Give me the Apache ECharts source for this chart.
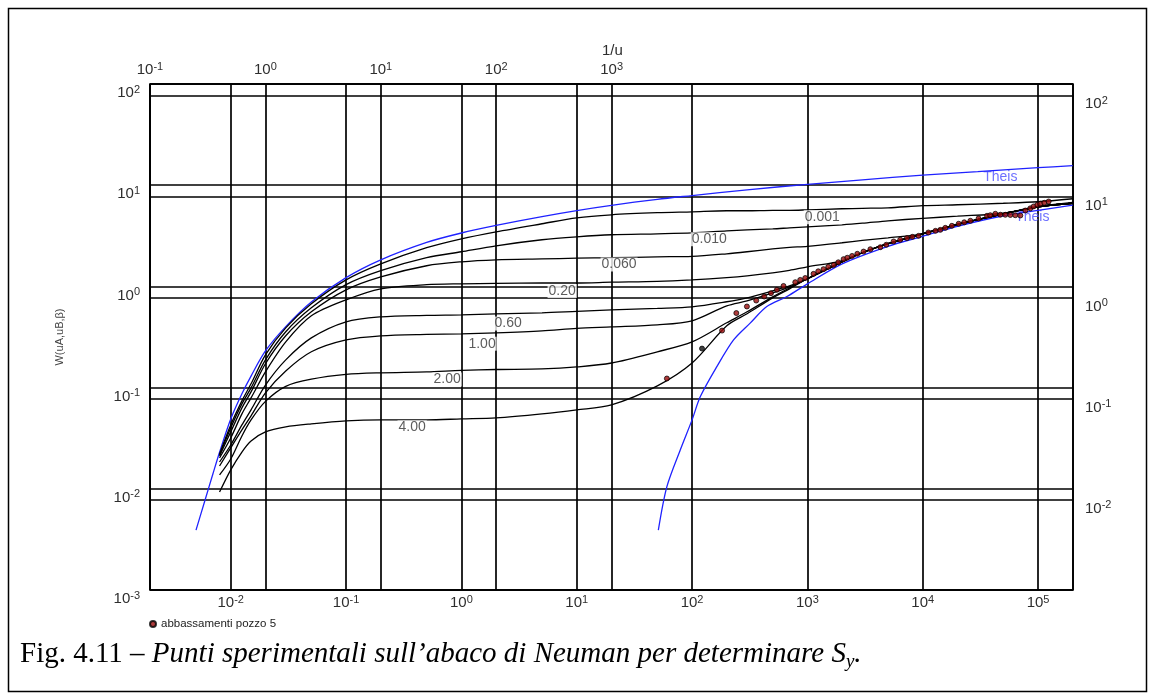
<!DOCTYPE html>
<html>
<head>
<meta charset="utf-8">
<title>Abaco di Neuman – abbassamenti pozzo 5</title>
<script src="https://cdn.jsdelivr.net/npm/echarts@6/dist/echarts.min.js"></script>
<style>
  html, body { margin: 0; padding: 0; background: #fff; }
  #chart { width: 1155px; height: 700px; }
</style>
</head>
<body>
<div id="chart"></div>
<script>
// ---------------------------------------------------------------------------
// Data (abscissa on the lower time axis, ordinate W(uA,uB,beta))
// ---------------------------------------------------------------------------

// Theis curve, early-time branch (type A)
const theisA_x = [0.005, 0.006, 0.007, 0.008, 0.01, 0.0125, 0.015, 0.02, 0.03, 0.05, 0.1, 0.2, 0.5, 1, 2, 5, 10, 20, 50, 100, 300, 1000, 3000, 1e4, 3e4, 1e5, 2e5];
const theisA_W = [0.0039, 0.0078, 0.014, 0.023, 0.049, 0.087, 0.13, 0.23, 0.40, 0.70, 1.22, 1.83, 2.72, 3.37, 4.0, 4.9, 5.62, 6.33, 7.26, 7.9, 9.0, 10.2, 11.3, 12.6, 13.6, 14.9, 15.6];

// Theis curve, late-time branch (type B)
const theisB_x = [51, 60.5, 79, 100, 118, 164, 229, 319, 445, 665, 1000, 2000, 5000, 1e4, 2e4, 5e4, 1e5, 2e5];
const theisB_W = [0.0039, 0.0105, 0.0242, 0.048, 0.0815, 0.161, 0.296, 0.434, 0.632, 0.794, 1.06, 1.67, 2.49, 3.13, 3.93, 4.99, 5.65, 6.34];

// Neuman type curves, all sampled on the same abscissae
const tauGrid = [0.008, 0.01, 0.0125, 0.015, 0.02, 0.03, 0.05, 0.1, 0.2, 0.5, 1, 2, 5, 10, 20, 50, 100, 200, 300, 500, 700, 1000, 2000, 3000, 5000, 1e4, 2e4, 5e4, 1e5, 2e5];
const betaLabels = ['0.001', '0.010', '0.060', '0.20', '0.60', '1.00', '2.00', '4.00'];
const W_b0001 = [0.0221, 0.0428, 0.0739, 0.109, 0.211, 0.389, 0.673, 1.16, 1.67, 2.41, 2.95, 3.46, 4.16, 4.76, 5.10, 5.35, 5.46, 5.59, 5.59, 5.65, 5.65, 5.71, 5.85, 5.91, 5.98, 6.27, 6.41, 6.63, 6.86, 7.35];
const W_b001  = [0.0216, 0.0400, 0.0690, 0.0993, 0.188, 0.356, 0.614, 1.04, 1.43, 1.92, 2.20, 2.52, 2.89, 3.09, 3.24, 3.31, 3.38, 3.54, 3.62, 3.70, 3.79, 3.88, 4.06, 4.21, 4.45, 4.71, 4.94, 5.28, 6.19, 6.78];
const W_b006  = [0.0211, 0.0365, 0.0631, 0.0907, 0.172, 0.325, 0.561, 0.925, 1.24, 1.60, 1.75, 1.83, 1.87, 1.90, 1.92, 1.96, 1.98, 2.10, 2.20, 2.35, 2.43, 2.49, 2.70, 2.85, 3.02, 3.31, 4.11, 5.22, 6.12, 6.63];
const W_b02   = [0.0202, 0.0318, 0.0550, 0.0791, 0.143, 0.283, 0.512, 0.736, 0.946, 1.04, 1.06, 1.07, 1.08, 1.08, 1.10, 1.12, 1.16, 1.22, 1.27, 1.36, 1.44, 1.56, 1.79, 2.15, 2.64, 3.31, 4.11, 5.22, 6.12, 6.63];
const W_b06   = [0.0184, 0.0271, 0.0428, 0.0603, 0.106, 0.188, 0.310, 0.447, 0.500, 0.518, 0.524, 0.536, 0.548, 0.567, 0.586, 0.607, 0.628, 0.705, 0.771, 0.904, 1.01, 1.19, 1.75, 2.15, 2.64, 3.31, 4.11, 5.22, 6.12, 6.63];
const W_b1    = [0.0168, 0.0254, 0.0382, 0.0525, 0.0887, 0.146, 0.226, 0.296, 0.325, 0.336, 0.340, 0.348, 0.364, 0.385, 0.398, 0.417, 0.457, 0.643, 0.720, 0.864, 0.990, 1.19, 1.75, 2.15, 2.64, 3.31, 4.11, 5.22, 6.12, 6.63];
const W_b2    = [0.0137, 0.0197, 0.0333, 0.0480, 0.0731, 0.103, 0.121, 0.135, 0.140, 0.143, 0.148, 0.151, 0.153, 0.160, 0.175, 0.226, 0.283, 0.437, 0.561, 0.789, 0.968, 1.19, 1.75, 2.15, 2.64, 3.31, 4.11, 5.22, 6.12, 6.63];
const W_b4    = [0.0093, 0.0154, 0.0231, 0.0297, 0.0365, 0.0409, 0.0438, 0.0469, 0.0480, 0.0480, 0.0491, 0.0502, 0.0550, 0.0603, 0.0675, 0.104, 0.175, 0.408, 0.536, 0.771, 0.946, 1.19, 1.75, 2.15, 2.64, 3.31, 4.11, 5.22, 6.12, 6.63];

// Measured drawdowns, well 5
const obsT = [60.5, 122, 182, 242, 299, 360, 422, 483, 544, 621, 785, 867, 958, 1130, 1242, 1380, 1518, 1690, 1854, 2060, 2218, 2440, 2710, 3070, 3516, 4290, 4831, 5590, 6380, 7310, 8128, 9210, 11200, 12900, 14200, 15700, 17900, 20500, 22900, 25900, 30500, 36100, 38500, 42600, 47100, 52000, 57500, 63500, 70200, 77600, 85700, 91600, 98600, 104700, 113300, 123500];
const obsS = [0.123, 0.243, 0.366, 0.545, 0.633, 0.725, 0.794, 0.858, 0.925, 1.01, 1.10, 1.16, 1.21, 1.33, 1.41, 1.48, 1.56, 1.63, 1.73, 1.86, 1.92, 2.00, 2.10, 2.21, 2.33, 2.44, 2.58, 2.78, 2.89, 3.00, 3.09, 3.16, 3.41, 3.54, 3.62, 3.79, 3.97, 4.16, 4.30, 4.45, 4.69, 4.99, 5.05, 5.22, 5.11, 5.10, 5.08, 5.05, 5.02, 5.62, 5.91, 6.17, 6.41, 6.55, 6.70, 6.90];

// Decade exponents printed on each axis
const bottomDecades = [-2, -1, 0, 1, 2, 3, 4, 5];
const topDecades = [-1, 0, 1, 2, 3];
const leftDecades = [-3, -2, -1, 0, 1, 2];
const rightDecades = [-2, -1, 0, 1, 2];

// ---------------------------------------------------------------------------
// Chart
// ---------------------------------------------------------------------------
const neumanW = [W_b0001, W_b001, W_b006, W_b02, W_b06, W_b1, W_b2, W_b4];

const SANS = '"Liberation Sans", Arial, Helvetica, sans-serif';
const SERIF = '"Liberation Serif", "Times New Roman", serif';
const BLUE = '#1f22ff';

function zip(xs, ys) { return xs.map((x, i) => [x, ys[i]]); }

// value of a sampled curve at x, interpolated in log-log space (used to anchor labels)
function logInterp(xs, ys, x) {
  const lx = Math.log10(x);
  for (let i = 0; i < xs.length - 1; i++) {
    const a = Math.log10(xs[i]), b = Math.log10(xs[i + 1]);
    if (lx >= a && lx <= b) {
      const t = (lx - a) / (b - a);
      const la = Math.log10(ys[i]), lb = Math.log10(ys[i + 1]);
      return Math.pow(10, la + t * (lb - la));
    }
  }
  return ys[ys.length - 1];
}

function decadeFormatter(list) {
  return function (v) {
    const e = Math.log10(v);
    const r = Math.round(e);
    if (Math.abs(e - r) > 1e-6 || list.indexOf(r) < 0) return '';
    return '{b|10}{s|' + r + '}';
  };
}
const tickRich = {
  b: { fontFamily: SANS, fontSize: 15, lineHeight: 18, color: '#2e2e2e' },
  s: { fontFamily: SANS, fontSize: 11, lineHeight: 10, verticalAlign: 'top', color: '#2e2e2e' }
};
const gridLine = { show: true, lineStyle: { color: '#000', width: 1.7 } };

const xLo = Math.pow(10, -2.7), xHi = Math.pow(10, 5.303);
const yRightLo = Math.pow(10, -2.89), yRightHi = Math.pow(10, 2.112);

// label anchors along the curves (abscissa, downward shift in px)
const betaLabelX = [1345, 141, 23.3, 7.48, 2.54, 1.51, 0.752, 0.374];
const betaLabelDy = [8, 7.5, 7, 8, 10, 10.5, 8.5, 7.5];

const series = [];

series.push({
  name: 'Theis A', type: 'line', data: zip(theisA_x, theisA_W),
  xAxisIndex: 0, yAxisIndex: 0, symbol: 'none', smooth: 0.3, silent: true, z: 3,
  lineStyle: { color: BLUE, width: 1.3 }
});
series.push({
  name: 'Theis B', type: 'line', data: zip(theisB_x, theisB_W),
  xAxisIndex: 0, yAxisIndex: 0, symbol: 'none', smooth: 0.3, silent: true, z: 3,
  lineStyle: { color: BLUE, width: 1.3 }
});

neumanW.forEach((w, i) => {
  series.push({
    name: 'beta ' + betaLabels[i], type: 'line', data: zip(tauGrid, w),
    xAxisIndex: 0, yAxisIndex: 0, symbol: 'none', smooth: 0.3, silent: true, z: 4,
    lineStyle: { color: '#000', width: 1.3 }
  });
});

// beta values written along the curves
series.push({
  name: 'beta labels', type: 'scatter', xAxisIndex: 0, yAxisIndex: 0,
  symbolSize: 0, silent: true, z: 6,
  data: betaLabels.map((b, i) => ({
    value: [betaLabelX[i], logInterp(tauGrid, neumanW[i], betaLabelX[i])],
    label: { formatter: b, offset: [0, betaLabelDy[i]] }
  })),
  label: {
    show: true, position: 'inside', fontFamily: SANS, fontSize: 14, color: '#333',
    backgroundColor: '#fff', padding: [0, 1, 0, 1]
  }
});

// "Theis" names next to the two blue branches
series.push({
  name: 'theis labels', type: 'scatter', xAxisIndex: 0, yAxisIndex: 0,
  symbolSize: 0, silent: true, z: 2,
  data: [
    { value: [47100, logInterp(theisA_x, theisA_W, 47100)], label: { offset: [0, 7] } },
    { value: [89200, logInterp(theisB_x, theisB_W, 89200)], label: { offset: [0, 6] } }
  ],
  label: { show: true, position: 'inside', formatter: 'Theis', fontFamily: SANS, fontSize: 14, color: '#4a4cff' }
});

series.push({
  name: 'abbassamenti pozzo 5', type: 'scatter', xAxisIndex: 0, yAxisIndex: 0,
  data: zip(obsT, obsS).map((p, i) => i === 1 ? { value: p, itemStyle: { color: '#111' } } : p),
  symbol: 'circle', symbolSize: 5, z: 7,
  itemStyle: { color: '#9a0a0a', borderColor: '#000', borderWidth: 0.9 }
});

const option = {
  animation: false,
  backgroundColor: '#fff',
  textStyle: { fontFamily: SANS },
  title: [
    { text: '1/u', left: 602, top: 43, padding: 0, textStyle: { fontFamily: SANS, fontSize: 15, fontWeight: 'normal', color: '#2e2e2e' } },
    {
      text: '{r|Fig. 4.11 – }{i|Punti sperimentali sull’abaco di Neuman per determinare S}{sub|y}{i|.}',
      left: 20, top: 637, padding: 0,
      textStyle: {
        rich: {
          r: { fontFamily: SERIF, fontSize: 29, fontWeight: 'normal', color: '#000', lineHeight: 34 },
          i: { fontFamily: SERIF, fontSize: 29, fontWeight: 'normal', fontStyle: 'italic', color: '#000', lineHeight: 34 },
          sub: { fontFamily: SERIF, fontSize: 19, fontWeight: 'normal', fontStyle: 'italic', color: '#000', lineHeight: 19, verticalAlign: 'bottom' }
        }
      }
    }
  ],
  legend: {
    data: [{ name: 'abbassamenti pozzo 5', icon: 'circle' }],
    left: 144, top: 613, itemWidth: 6, itemHeight: 6, itemGap: 5, selectedMode: false,
    textStyle: { fontFamily: SANS, fontSize: 11.5, color: '#222' }
  },
  grid: [
    { left: 150, top: 84, width: 923, height: 506, show: true, borderColor: '#000', borderWidth: 1.7, backgroundColor: 'transparent' },
    { left: 150, top: 84, width: 461.6, height: 506 }
  ],
  xAxis: [
    {
      type: 'log', logBase: 10, gridIndex: 0, position: 'bottom', min: xLo, max: xHi,
      axisLine: { show: false }, axisTick: { show: false }, splitLine: gridLine,
      axisLabel: { formatter: decadeFormatter(bottomDecades), rich: tickRich, margin: 4, showMinLabel: false, showMaxLabel: false }
    },
    {
      type: 'log', logBase: 10, gridIndex: 1, position: 'top', min: 0.1, max: 1000,
      axisLine: { show: false }, axisTick: { show: false }, splitLine: gridLine,
      axisLabel: { formatter: decadeFormatter(topDecades), rich: tickRich, margin: 5 }
    }
  ],
  yAxis: [
    {
      type: 'log', logBase: 10, gridIndex: 0, position: 'left', min: 0.001, max: 100,
      axisLine: { show: false }, axisTick: { show: false }, splitLine: gridLine,
      name: 'W(uA,uB,β)', nameLocation: 'middle', nameGap: 85, nameRotate: 90,
      nameTextStyle: { fontFamily: SANS, fontSize: 11, color: '#444' },
      axisLabel: { formatter: decadeFormatter(leftDecades), rich: tickRich, margin: 10, verticalAlign: 'top' }
    },
    {
      type: 'log', logBase: 10, gridIndex: 0, position: 'right', min: yRightLo, max: yRightHi,
      axisLine: { show: false }, axisTick: { show: false }, splitLine: gridLine,
      axisLabel: { formatter: decadeFormatter(rightDecades), rich: tickRich, margin: 12, verticalAlign: 'top', showMinLabel: false, showMaxLabel: false }
    },
    { type: 'value', gridIndex: 1, show: false }
  ],
  graphic: [
    {
      type: 'rect', silent: true, z: 100,
      shape: { x: 8.5, y: 8.5, width: 1138, height: 683 },
      style: { fill: 'none', stroke: '#000', lineWidth: 1.5 }
    }
  ],
  series: series
};

const chart = echarts.init(document.getElementById('chart'), null, { renderer: 'canvas' });
chart.setOption(option);
</script>
</body>
</html>
